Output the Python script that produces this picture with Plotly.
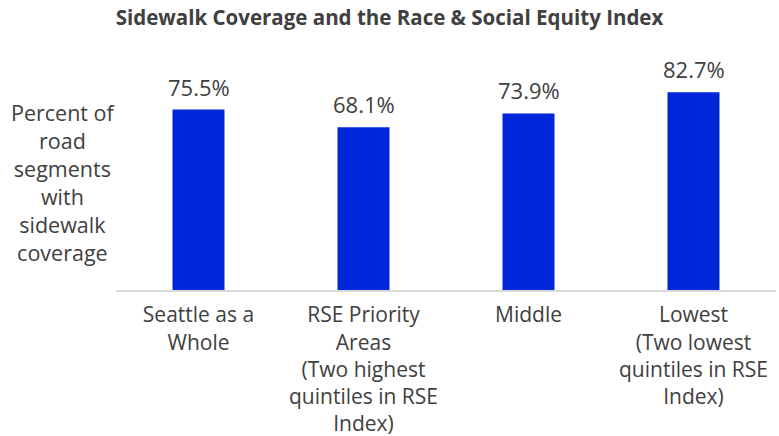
import plotly.graph_objects as go

# Sidewalk coverage by Race & Social Equity (RSE) Index grouping
categories = [
    "Seattle as a<br>Whole",
    "RSE Priority<br>Areas<br>(Two highest<br>quintiles in RSE<br>Index)",
    "Middle",
    "Lowest<br>(Two lowest<br>quintiles in RSE<br>Index)",
]
coverage_pct = [75.5, 68.1, 73.9, 82.7]
value_labels = [f"{v:.1f}%" for v in coverage_pct]

TEXT = "#404040"
FONT = "Open Sans"

fig = go.Figure(
    go.Bar(
        x=categories,
        y=coverage_pct,
        marker=dict(color="#0026D9", line=dict(width=0)),
        width=0.315,
        hoverinfo="skip",
    )
)

# value labels sitting above each bar
annotations = [
    dict(
        x=c,
        y=v,
        text=t,
        xref="x",
        yref="y",
        showarrow=False,
        xanchor="center",
        yanchor="middle",
        yshift=23,
        font=dict(family=FONT, size=22, color=TEXT),
    )
    for c, v, t in zip(categories, coverage_pct, value_labels)
]

annotations.append(
    dict(
        text="Percent of<br>road<br>segments<br>with<br>sidewalk<br>coverage",
        xref="paper",
        yref="paper",
        x=-0.08,
        y=0.45,
        xanchor="center",
        yanchor="middle",
        showarrow=False,
        align="center",
        font=dict(family=FONT, size=21.5, color=TEXT),
    )
)

fig.update_layout(
    width=779,
    height=436,
    margin=dict(l=116, r=3, t=51, b=146),
    paper_bgcolor="white",
    plot_bgcolor="white",
    showlegend=False,
    title=dict(
        text="<b>Sidewalk Coverage and the Race &amp; Social Equity Index</b>",
        x=0.5,
        xanchor="center",
        y=0.958,
        yanchor="middle",
        font=dict(family=FONT, size=20.5, color=TEXT),
    ),
    xaxis=dict(
        showline=True,
        linecolor="#D9D9D9",
        linewidth=2,
        ticks="",
        ticklabelstandoff=5,
        automargin=False,
        tickfont=dict(family=FONT, size=21, color=TEXT),
        fixedrange=True,
    ),
    yaxis=dict(
        range=[0, 100],
        visible=False,
        showgrid=False,
        zeroline=False,
        fixedrange=True,
    ),
    annotations=annotations,
)

fig.write_html("out.html")
